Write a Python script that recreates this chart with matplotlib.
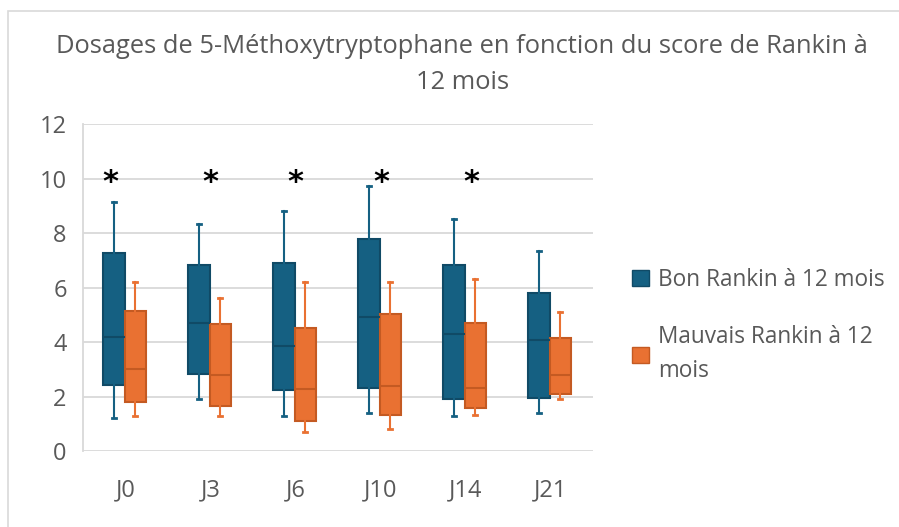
import matplotlib.pyplot as plt
from matplotlib.patches import Patch, Rectangle

plt.rcParams['font.family'] = ['Open Sans', 'DejaVu Sans']

days = ['J0', 'J3', 'J6', 'J10', 'J14', 'J21']

# box stats: whisker low, q1, median, q3, whisker high
bon_low = [1.2, 1.9, 1.3, 1.4, 1.3, 1.4]
bon_q1 = [2.43, 2.83, 2.24, 2.3, 1.92, 1.96]
bon_med = [4.2, 4.72, 3.86, 4.93, 4.31, 4.06]
bon_q3 = [7.27, 6.83, 6.9, 7.79, 6.83, 5.81]
bon_high = [9.13, 8.33, 8.82, 9.74, 8.53, 7.33]

mauv_low = [1.3, 1.3, 0.71, 0.8, 1.31, 1.91]
mauv_q1 = [1.81, 1.67, 1.11, 1.32, 1.59, 2.08]
mauv_med = [3.0, 2.79, 2.27, 2.4, 2.32, 2.79]
mauv_q3 = [5.16, 4.67, 4.51, 5.02, 4.72, 4.15]
mauv_high = [6.21, 5.62, 6.21, 6.21, 6.32, 5.11]

# significance marks (asterisk) and their small horizontal nudges
signif = [True, True, True, True, True, False]
star_shift = [-0.18, 0.0, 0.0, 0.01, 0.07, 0.0]

blue = '#156082'
blue_edge = '#104a66'
orange = '#E97132'
orange_edge = '#c45a22'
grey_text = '#595959'


def make_stats(low, q1, med, q3, high):
    return [dict(whislo=a, q1=b, med=c, q3=d, whishi=e, fliers=[])
            for a, b, c, d, e in zip(low, q1, med, q3, high)]


fig = plt.figure(figsize=(8.99, 5.27), dpi=100)
ax = fig.add_axes([0.0927, 0.1442, 0.5673, 0.6199])

width = 0.25
shift = -0.015
pos = list(range(len(days)))

for stats, off, fc, ec in [
        (make_stats(bon_low, bon_q1, bon_med, bon_q3, bon_high), -width / 2, blue, blue_edge),
        (make_stats(mauv_low, mauv_q1, mauv_med, mauv_q3, mauv_high), width / 2, orange, orange_edge)]:
    ax.bxp(stats, positions=[p + off + shift for p in pos], widths=width,
           patch_artist=True, showfliers=False, manage_ticks=False,
           boxprops=dict(facecolor=fc, edgecolor=ec, linewidth=1.5),
           medianprops=dict(color=ec, linewidth=1.5),
           whiskerprops=dict(color=fc, linewidth=1.5),
           capprops=dict(color=fc, linewidth=2.0),
           capwidths=0.05, zorder=3)

for p, s, dx in zip(pos, signif, star_shift):
    if s:
        ax.text(p + dx, 9.85, '*', ha='center', va='center', fontsize=22,
                fontweight='bold', family='DejaVu Sans', color='black')

ax.set_xlim(-0.5, len(days) - 0.5)
ax.set_ylim(0, 12)
ax.set_yticks(range(0, 13, 2))
ax.set_xticks(pos)
ax.set_xticklabels(days)
ax.tick_params(axis='both', length=0, labelsize=17, colors=grey_text)
ax.tick_params(axis='x', pad=20)
ax.tick_params(axis='y', pad=12)
ax.grid(axis='y', color='#d9d9d9', linewidth=1.3, zorder=0)
ax.set_axisbelow(True)
for side in ['top', 'right', 'bottom']:
    ax.spines[side].set_visible(False)
ax.spines['left'].set_color('#d9d9d9')
ax.spines['left'].set_linewidth(1.3)

fig.text(0.514, 0.878, 'Dosages de 5-Méthoxytryptophane en fonction du score de Rankin à\n12 mois',
         ha='center', va='center', fontsize=18.4, color=grey_text, linespacing=1.55)

handles = [Patch(facecolor=blue, edgecolor=blue_edge),
           Patch(facecolor=orange, edgecolor=orange_edge)]
leg = fig.legend(handles, ['Bon Rankin à 12 mois', 'Mauvais Rankin à 12\nmois'],
                 loc='upper left', bbox_to_anchor=(0.68, 0.53), frameon=False,
                 fontsize=16.3, labelcolor=grey_text, handlelength=0.75, handleheight=0.75,
                 handletextpad=0.4, labelspacing=1.45)
leg.get_texts()[1].set_linespacing(1.55)

fig.patches.append(Rectangle((8 / 899, -0.05), 1.2, 0.05 + (527 - 11) / 527,
                             transform=fig.transFigure, fill=False,
                             edgecolor='#d9d9d9', linewidth=1.2))

fig.savefig('out.png', dpi=100)
